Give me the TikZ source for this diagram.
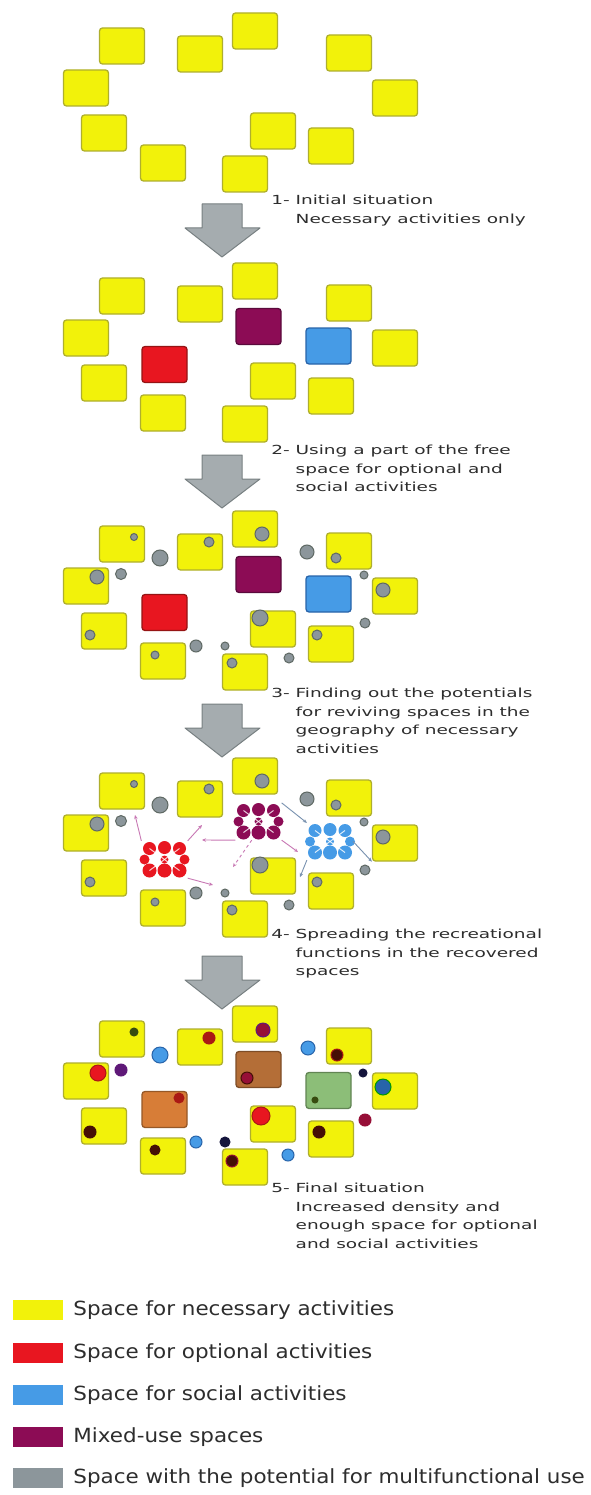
\documentclass[tikz,border=0pt]{standalone}
\usepackage{fontspec}
\setmainfont{DejaVu Sans}
\usetikzlibrary{positioning,arrows.meta}

\definecolor{necyellow}{RGB}{242,242,10}
\definecolor{necedge}{RGB}{175,175,45}
\definecolor{optred}{RGB}{232,22,32}
\definecolor{optedge}{RGB}{150,20,20}
\definecolor{socblue}{RGB}{70,155,230}
\definecolor{socedge}{RGB}{40,100,170}
\definecolor{mixpurple}{RGB}{140,12,85}
\definecolor{mixedge}{RGB}{90,10,60}
\definecolor{potgrey}{RGB}{140,150,155}
\definecolor{potedge}{RGB}{95,105,100}
\definecolor{arrgrey}{RGB}{165,172,175}
\definecolor{arredge}{RGB}{120,128,130}
\definecolor{linkpink}{RGB}{200,120,180}
\definecolor{linkblue}{RGB}{120,145,175}
\definecolor{mixbrown}{RGB}{180,110,55}
\definecolor{optorange}{RGB}{215,125,55}
\definecolor{socgreen}{RGB}{140,190,120}
\definecolor{dgreen}{RGB}{55,75,15}
\definecolor{dbrown}{RGB}{70,15,5}
\definecolor{dred}{RGB}{170,25,20}
\definecolor{maroon}{RGB}{150,15,55}
\definecolor{navy}{RGB}{20,20,60}
\definecolor{violet}{RGB}{95,25,120}
\definecolor{textgrey}{RGB}{45,45,45}

\tikzset{
  space/.style={rectangle, rounded corners=3pt, minimum width=45pt, minimum height=36pt,
    line width=1.3pt, inner sep=0pt},
  necbox/.style={space, fill=necyellow, draw=necedge},
  optbox/.style={space, fill=optred, draw=optedge},
  socbox/.style={space, fill=socblue, draw=socedge},
  mixbox/.style={space, fill=mixpurple, draw=mixedge},
  spot/.style={circle, inner sep=0pt, line width=1pt},
  potspot/.style={spot, fill=potgrey, draw=potedge},
  stagearrow/.style={fill=arrgrey, draw=arredge, line width=1pt, line join=round},
  link/.style={linkpink, line width=0.9pt, -{Stealth[length=4pt,width=3.5pt]}},
  steptext/.style={anchor=north west, inner sep=0pt, text=textgrey, xscale=1.48,
    font=\fontsize{12.5}{18.5}\selectfont},
  swatch/.style={rectangle, minimum width=50pt, minimum height=20pt, inner sep=0pt},
  legtext/.style={right=10pt of #1, inner sep=0pt, text=textgrey, xscale=1.1,
    font=\fontsize{19.5}{23}\selectfont},
}

\begin{document}
\begin{tikzpicture}[x=1pt, y=-1pt]
\fill[white] (0,0) rectangle (591,1495);
\useasboundingbox (0,0) rectangle (591,1495);

% yellow spaces, same in every stage
\foreach \s/\oy in {1/0,2/250,3/498,4/745,5/993}{
  \begin{scope}[shift={(0,\oy)}]
    \foreach \n/\x/\y in {A/122/46, B/200/54, C/255/31, D/349/53, E/86/88, F/395/98,
                          G/104/133, H/273/131, I/331/146, J/163/163, K/245/174}
      \node[necbox] (s\s\n) at (\x,\y) {};
  \end{scope}
}

% stages 2 and 3: coloured spaces
\foreach \s/\oy in {2/250,3/498}{
  \node[optbox] (s\s opt) at (164.5,114.5+\oy) {};
  \node[mixbox] (s\s mix) at (258.5,76.5+\oy) {};
  \node[socbox] (s\s soc) at (328.5,96+\oy) {};
}

% stages 3 and 4: potential spots
\foreach \s/\oy in {3/498,4/745}{
  \foreach \x/\y/\r [count=\i] in {134/39/3.5, 160/60/8, 97/79/7, 121/76/5.5, 209/44/5,
      90/137/5, 155/157/4, 196/148/6, 225/148/4, 232/165/5, 262/36/7, 307/54/7,
      336/60/5, 364/77/4, 383/92/7, 260/120/8, 365/125/5, 317/137/5, 289/160/5}
    \node[potspot, minimum size=2*\r] (s\s-c\i) at (\x,\y+\oy) {};
}

% stage 4: spreading clusters
\node[space] (s4opt) at (164.5,859.5) {};
\node[space] (s4mix) at (258.5,821.5) {};
\node[space] (s4soc) at (330,841.5) {};
\foreach \c/\f in {opt/optred, mix/mixpurple, soc/socblue}{
  \foreach \dx/\dy/\r in {-15/-11/6.5, 0/-12/6.5, 15/-11/6.5, -20/0/5, 20/0/5, 0/0/4,
                          -15/11/7, 0/11/7, 15/11/7}
    \fill[\f] (s4\c) ++(\dx,\dy) circle[radius=\r pt];
  \draw[white, opacity=0.8, line width=1pt] (s4\c) ++(-15,-11) -- ++(30,22);
  \draw[white, opacity=0.8, line width=1pt] (s4\c) ++(15,-11) -- ++(-30,22);
}
\coordinate (e1) at (135,815);
\coordinate (e2) at (202,825);
\coordinate (e3) at (202,840);
\coordinate (e4) at (213,885);
\coordinate (e5) at (233,867);
\coordinate (e6) at (298,852);
\coordinate (e7) at (300,877);
\draw[link] (s4opt.north west) -- (e1);
\draw[link] (s4opt.north east) -- (e2);
\draw[link] (s4mix.south west) -- (e3);
\draw[link] (s4opt.south east) -- (e4);
\draw[link, dashed] (s4mix.250) -- (e5);
\draw[link] (s4mix.south east) -- (e6);
\draw[link, linkblue] (s4mix.north east) -- (s4soc.north west);
\draw[link, linkblue] (s4soc.east) -- (s4F.south west);
\draw[link, linkblue] (s4soc.south west) -- (e7);

% stage 5: final situation
\node[space, fill=optorange, draw=optorange!70!black] (s5opt) at (164.5,1109.5) {};
\node[space, fill=mixbrown, draw=mixbrown!70!black] (s5mix) at (258.5,1069.5) {};
\node[space, fill=socgreen, draw=socgreen!70!black] (s5soc) at (328.5,1090.5) {};
\foreach \x/\y/\r/\f/\d [count=\i] in {134/39/4/dgreen/dgreen, 160/62/8/socblue/socedge,
    98/80/8/optred/dred, 121/77/6/violet/violet, 209/45/6/dred/dred, 179/105/5/dred/dred,
    90/139/6/dbrown/dbrown, 155/157/5/dbrown/dbrown, 196/149/6/socblue/socedge,
    225/149/5/navy/navy, 232/168/6/dbrown/maroon, 247/85/6/maroon/dbrown,
    263/37/7/maroon/violet, 308/55/7/socblue/socedge, 337/62/6/dbrown/dred,
    363/80/4/navy/navy, 383/94/8/socedge/green!60!black, 315/107/3/dgreen/dgreen,
    365/127/6/maroon/maroon, 261/123/9/optred/dred, 319/139/6/dbrown/dbrown,
    288/162/6/socblue/socedge}
  \node[spot, fill=\f, draw=\d, minimum size=2*\r] (s5-c\i) at (\x,\y+993) {};

% arrows between stages
\foreach \t in {204,455,704,956}
  \draw[stagearrow] (202,\t) -- (242,\t) -- (242,\t+24) -- (260,\t+24) -- (222,\t+53)
    -- (185,\t+24) -- (202,\t+24) -- cycle;

% stage captions
\node[steptext] (t1) at (271,191.5) {\begin{tabular}{@{}l@{\hspace{4pt}}l@{}}
  1- & Initial situation\\ & Necessary activities only\end{tabular}};
\node[steptext] (t2) at (271,441.5) {\begin{tabular}{@{}l@{\hspace{4pt}}l@{}}
  2- & Using a part of the free\\ & space for optional and\\ & social activities\end{tabular}};
\node[steptext] (t3) at (271,684.5) {\begin{tabular}{@{}l@{\hspace{4pt}}l@{}}
  3- & Finding out the potentials\\ & for reviving spaces in the\\
     & geography of necessary\\ & activities\end{tabular}};
\node[steptext] (t4) at (271,925.5) {\begin{tabular}{@{}l@{\hspace{4pt}}l@{}}
  4- & Spreading the recreational\\ & functions in the recovered\\ & spaces\end{tabular}};
\node[steptext] (t5) at (271,1179.5) {\begin{tabular}{@{}l@{\hspace{4pt}}l@{}}
  5- & Final situation\\ & Increased density and\\
     & enough space for optional\\ & and social activities\end{tabular}};

% legend
\node[swatch, fill=necyellow] (leg1) at (38,1310) {};
\node[swatch, fill=optred] (leg2) at (38,1353) {};
\node[swatch, fill=socblue] (leg3) at (38,1395) {};
\node[swatch, fill=mixpurple] (leg4) at (38,1437) {};
\node[swatch, fill=potgrey] (leg5) at (38,1478) {};
\node[legtext=leg1] (lt1) {Space for necessary activities};
\node[legtext=leg2] (lt2) {Space for optional activities};
\node[legtext=leg3] (lt3) {Space for social activities};
\node[legtext=leg4] (lt4) {Mixed-use spaces};
\node[legtext=leg5] (lt5) {Space with the potential for multifunctional use};
\end{tikzpicture}
\end{document}
